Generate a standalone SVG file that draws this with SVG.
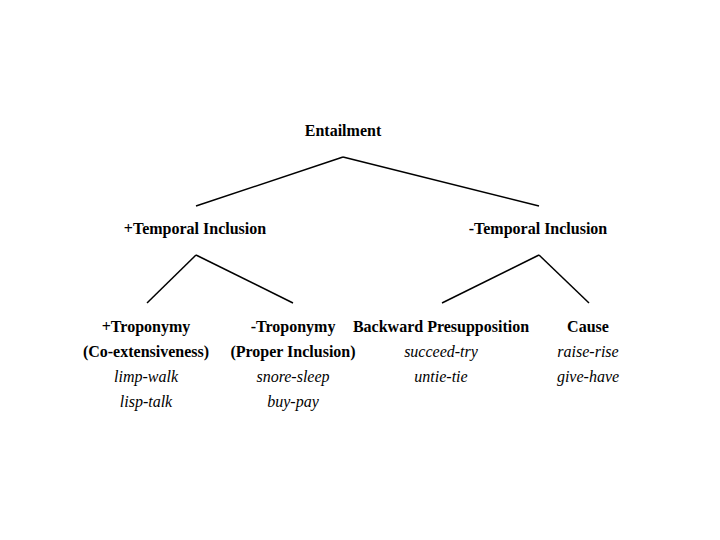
<svg xmlns="http://www.w3.org/2000/svg" width="720" height="540" viewBox="0 0 720 540">
<style>
text{font-family:"Liberation Serif","Times New Roman",serif;font-size:16px;fill:#000;text-anchor:middle}
.b{font-weight:bold}
.i{font-style:italic}
.c line{stroke:#000;stroke-width:1.5}
</style>
<rect width="720" height="540" fill="#fff"/>
<g class="c" id="connectors">
<line x1="343" y1="157" x2="196" y2="206"/>
<line x1="343" y1="157" x2="539" y2="206"/>
<line x1="196" y1="255" x2="147" y2="303"/>
<line x1="196" y1="255" x2="293" y2="303"/>
<line x1="539" y1="255" x2="442" y2="303"/>
<line x1="539" y1="255" x2="589" y2="303"/>
</g>
<g id="entailment"><text class="b" x="343" y="136">Entailment</text></g>
<g id="plus-temporal"><text class="b" x="195" y="234">+Temporal Inclusion</text></g>
<g id="minus-temporal"><text class="b" x="538" y="234">-Temporal Inclusion</text></g>
<g id="plus-troponymy">
<text class="b" x="146" y="332">+Troponymy</text>
<text class="b" x="146" y="357">(Co-extensiveness)</text>
<text class="i" x="146" y="382">limp-walk</text>
<text class="i" x="146" y="407">lisp-talk</text>
</g>
<g id="minus-troponymy">
<text class="b" x="293" y="332">-Troponymy</text>
<text class="b" x="293" y="357">(Proper Inclusion)</text>
<text class="i" x="293" y="382">snore-sleep</text>
<text class="i" x="293" y="407">buy-pay</text>
</g>
<g id="backward">
<text class="b" x="441" y="332">Backward Presupposition</text>
<text class="i" x="441" y="357">succeed-try</text>
<text class="i" x="441" y="382">untie-tie</text>
</g>
<g id="cause">
<text class="b" x="588" y="332">Cause</text>
<text class="i" x="588" y="357">raise-rise</text>
<text class="i" x="588" y="382">give-have</text>
</g>
</svg>
